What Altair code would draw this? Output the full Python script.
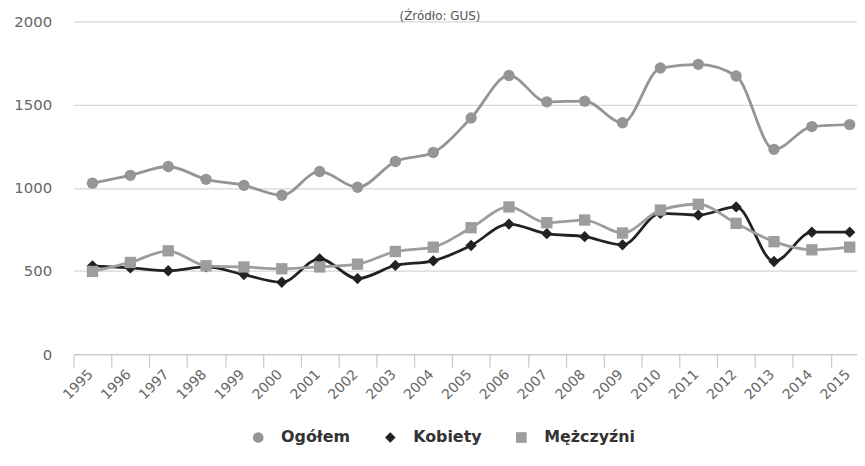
import altair as alt
import pandas as pd

source_note = "(Źródło: GUS)"
years = list(range(1995, 2016))
series_names = ["Ogółem", "Kobiety", "Mężczyźni"]
ogolem = [1028, 1075, 1128, 1051, 1015, 955, 1098, 1003, 1158, 1212, 1420,
          1675, 1517, 1521, 1391, 1720, 1742, 1672, 1231, 1368, 1380]
kobiety = [531, 518, 501, 524, 478, 432, 573, 454, 533, 561, 653,
           782, 724, 706, 657, 846, 836, 885, 557, 733, 733]
mezczyzni = [497, 551, 621, 531, 524, 513, 524, 541, 617, 643, 760,
             885, 790, 806, 728, 866, 901, 786, 676, 627, 643]
series_colors = ["#959595", "#222222", "#9d9d9d"]
series_shapes = ["circle", "diamond", "square"]
y_ticks = [0, 500, 1000, 1500, 2000]

rows = []
for name, vals in zip(series_names, [ogolem, kobiety, mezczyzni]):
    for yr, v in zip(years, vals):
        rows.append({"year": yr, "value": v, "series": name})
df = pd.DataFrame(rows)

W = 789
H = 335
px_per_year = 38.13
half = px_per_year / 2
x_dom = [1994.5, 1994.5 + W / px_per_year]

x_enc = alt.X(
    "year:Q",
    scale=alt.Scale(domain=x_dom, nice=False, zero=False),
    axis=alt.Axis(
        values=years, format="d", title=None, grid=False,
        labelAngle=315, labelAlign="right", labelBaseline="middle",
        tickOffset=-half, labelOffset=half - 2, tickSize=13,
        tickColor="#c8c8c8", domainColor="#c8c8c8", tickWidth=1.2, domainWidth=1.2,
        labelPadding=5, labelFont="DejaVu Sans", labelFontSize=14,
        labelColor="#666666", labelFlush=False, labelOverlap=False,
    ),
)
y_enc = alt.Y(
    "value:Q",
    scale=alt.Scale(domain=[0, 2000], nice=False),
    axis=alt.Axis(
        values=y_ticks, format="d", title=None, domain=False, ticks=False,
        labelPadding=22, labelFont="DejaVu Sans", labelFontSize=15,
        labelColor="#666666", gridColor="#d6d6d6", gridWidth=1.3,
    ),
)
color_scale = alt.Scale(domain=series_names, range=series_colors)
shape_scale = alt.Scale(domain=series_names, range=series_shapes)

legend = alt.Legend(
    orient="none", legendX=178, legendY=411, direction="horizontal",
    title=None, labelFont="DejaVu Sans", labelFontSize=16,
    labelFontWeight="bold", labelColor="#333333", symbolSize=115,
    labelOffset=15, columnPadding=32, symbolStrokeWidth=0, padding=0,
)

lines = alt.Chart(df).mark_line(interpolate="monotone", strokeWidth=2.8).encode(
    x=x_enc, y=y_enc,
    color=alt.Color("series:N", scale=color_scale, legend=legend),
    detail="series:N",
)
points = alt.Chart(df).mark_point(filled=True, size=130, opacity=1).encode(
    x=x_enc, y=y_enc,
    color=alt.Color("series:N", scale=color_scale, legend=legend),
    shape=alt.Shape("series:N", scale=shape_scale, legend=legend),
)
note = alt.Chart(pd.DataFrame({"t": [source_note]})).mark_text(
    font="DejaVu Sans", fontSize=12, color="#555555", align="center",
    baseline="alphabetic",
).encode(text="t:N", x=alt.value(369), y=alt.value(-1.5))

chart = alt.layer(lines, points, note).properties(
    width=W, height=H,
    padding={"left": 66, "top": 12, "right": 0, "bottom": 93},
    autosize=alt.AutoSizeParams(type="none"),
    background="white",
).configure_view(stroke=None)

chart.save("out.html", embed_options={"renderer": "svg", "actions": False})
